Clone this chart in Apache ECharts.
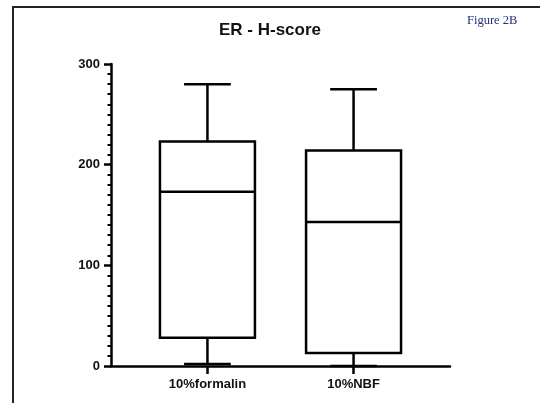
<!DOCTYPE html>
<html>
<head>
<meta charset="utf-8">
<script src="https://cdn.jsdelivr.net/npm/echarts@6/dist/echarts.min.js"></script>
<style>
  html, body { margin: 0; padding: 0; background: #fff; }
  #chart { width: 540px; height: 403px; }
</style>
</head>
<body>
<div id="chart"></div>
<script>
// box plot values
var categories = ['10%formalin', '10%NBF'];
var whiskerLow = [2, 0];
var q1 = [28, 13];
var medians = [173, 143];
var q3 = [223, 214];
var whiskerHigh = [280, 275];
var yTicks = [0, 100, 200, 300];

var boxData = categories.map(function (name, i) {
  return [i, whiskerLow[i], q1[i], medians[i], q3[i], whiskerHigh[i]];
});

var font = 'Liberation Sans, Arial, sans-serif';

function renderBox(params, api) {
  var x = api.value(0);
  var lo = api.coord([x, api.value(1)]);
  var b1 = api.coord([x, api.value(2)]);
  var md = api.coord([x, api.value(3)]);
  var b3 = api.coord([x, api.value(4)]);
  var hi = api.coord([x, api.value(5)]);
  var w = api.size([1, 0])[0];
  var half = w * 0.325;
  var cap = w * 0.16;
  var cx = md[0];
  var st = { stroke: '#000', lineWidth: 2.5, fill: null };
  return {
    type: 'group',
    children: [
      { type: 'line', shape: { x1: cx, y1: b3[1], x2: cx, y2: hi[1] }, style: st },
      { type: 'line', shape: { x1: cx - cap, y1: hi[1], x2: cx + cap, y2: hi[1] }, style: st },
      { type: 'line', shape: { x1: cx, y1: b1[1], x2: cx, y2: lo[1] }, style: st },
      { type: 'line', shape: { x1: cx - cap, y1: lo[1], x2: cx + cap, y2: lo[1] }, style: st },
      { type: 'rect', shape: { x: cx - half, y: b3[1], width: half * 2, height: b1[1] - b3[1] },
        style: { stroke: '#000', lineWidth: 2.5, fill: '#fff' } },
      { type: 'line', shape: { x1: cx - half, y1: md[1], x2: cx + half, y2: md[1] }, style: st }
    ]
  };
}

var myChart = echarts.init(document.getElementById('chart'));

var option = {
  backgroundColor: '#fff',
  animation: false,
  title: [
    {
      text: 'ER - H-score',
      left: 'center',
      top: 17,
      textStyle: { fontFamily: font, fontSize: 17, fontWeight: 'bold', color: '#111' }
    },
    {
      text: 'Figure 2B',
      left: 462,
      top: 9,
      textStyle: { fontFamily: 'Liberation Serif, Times New Roman, serif', fontSize: 12.5, fontWeight: 'normal', color: '#26307a' }
    }
  ],
  graphic: [
    {
      type: 'rect',
      shape: { x: 13, y: 7, width: 600, height: 500 },
      style: { stroke: '#222', lineWidth: 2, fill: null },
      silent: true
    }
  ],
  grid: { left: 111, right: 90, top: 64, bottom: 37 },
  xAxis: {
    type: 'value',
    min: -0.66,
    max: 1.66,
    splitLine: { show: false },
    axisLine: { show: true, lineStyle: { color: '#000', width: 2.5 } },
    axisTick: { show: true, length: 8, customValues: [0, 1], lineStyle: { color: '#000', width: 2.5 } },
    axisLabel: {
      customValues: [0, 1],
      margin: 12,
      fontFamily: font,
      fontSize: 13,
      fontWeight: 'bold',
      color: '#111',
      formatter: function (v) { return categories[Math.round(v)] || ''; }
    }
  },
  yAxis: {
    type: 'value',
    min: yTicks[0],
    max: yTicks[yTicks.length - 1],
    interval: 100,
    splitLine: { show: false },
    axisLine: { show: true, onZero: false, lineStyle: { color: '#000', width: 2.5 } },
    axisTick: { show: true, length: 7, lineStyle: { color: '#000', width: 2.5 } },
    minorTick: { show: true, splitNumber: 10, length: 3.5, lineStyle: { color: '#000', width: 2 } },
    axisLabel: {
      margin: 11,
      fontFamily: font,
      fontSize: 13,
      fontWeight: 'bold',
      color: '#111'
    }
  },
  series: [
    {
      type: 'custom',
      renderItem: renderBox,
      encode: { x: 0, y: [1, 2, 3, 4, 5] },
      data: boxData,
      clip: false
    }
  ]
};

myChart.setOption(option);
window.addEventListener('resize', function () {
  myChart.resize();
});
</script>
</body>
</html>
